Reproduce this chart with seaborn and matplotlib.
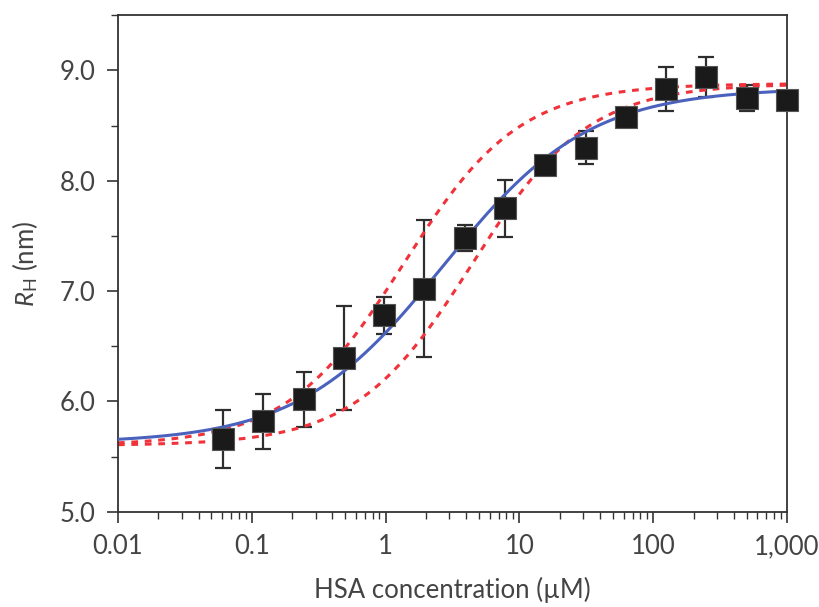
import numpy as np
import matplotlib
matplotlib.use("Agg")
import matplotlib.pyplot as plt
import matplotlib.ticker as mticker
import seaborn as sns

# measured hydrodynamic radius vs HSA concentration
conc = [0.061, 0.122, 0.244, 0.488, 0.977, 1.95, 3.91, 7.81, 15.6, 31.3, 62.5, 125, 250, 500, 1000]
rh = [5.66, 5.82, 6.02, 6.39, 6.78, 7.02, 7.48, 7.75, 8.14, 8.30, 8.58, 8.83, 8.94, 8.75, 8.73]
rh_err = [0.26, 0.25, 0.25, 0.47, 0.17, 0.62, 0.12, 0.26, 0.0, 0.15, 0.0, 0.20, 0.18, 0.12, 0.0]

# Hill-type fit parameters (base, plateau, K, n)
fit_best = (5.62, 8.84, 2.7, 0.8)
fit_upper = (5.60, 8.88, 1.35, 1.0)
fit_lower = (5.60, 8.88, 4.4, 1.0)


def hill(x, p):
    a, b, k, n = p
    return a + (b - a) / (1 + (k / x) ** n)


sns.set_style("ticks")
plt.rcParams['font.family'] = ['Lato', 'DejaVu Sans']
plt.rcParams['mathtext.fontset'] = 'custom'
plt.rcParams['mathtext.rm'] = 'Lato'
plt.rcParams['mathtext.it'] = 'Lato:italic'

text_col = "#444444"
fig = plt.figure(figsize=(8.19, 6.07), dpi=100)
ax = fig.add_axes([0.144, 0.157, 0.817, 0.818])

xs = np.logspace(-2, 3, 400)
for p in (fit_upper, fit_lower):
    sns.lineplot(x=xs, y=hill(xs, p), ax=ax, color="#f0323a", lw=2.2,
                 linestyle=(0, (2.2, 2.2)), zorder=2)
sns.lineplot(x=xs, y=hill(xs, fit_best), ax=ax, color="#4a62bd", lw=2.2, zorder=3)

conc_a = np.array(conc)
rh_a = np.array(rh)
err_a = np.array(rh_err)
m = err_a > 0
ax.errorbar(conc_a[m], rh_a[m], yerr=err_a[m], fmt="none", ecolor="#2e2e2e",
            elinewidth=1.6, capsize=6, capthick=1.6, zorder=1)
sns.scatterplot(x=conc, y=rh, ax=ax, marker="s", s=260, color="#1a1a1a",
                edgecolor="#555555", linewidth=0.8, zorder=4, clip_on=False)

ax.set_xscale("log")
ax.set_xlim(0.01, 1000)
ax.set_ylim(5.0, 9.5)
ax.set_xticks([0.01, 0.1, 1, 10, 100, 1000])
ax.set_xticklabels(["0.01", "0.1", "1", "10", "100", "1,000"])
ax.xaxis.set_minor_locator(mticker.LogLocator(base=10, subs=np.arange(2, 10), numticks=20))
ax.xaxis.set_minor_formatter(mticker.NullFormatter())
ax.set_yticks([5, 6, 7, 8, 9])
ax.set_yticklabels(["5.0", "6.0", "7.0", "8.0", "9.0"])
ax.yaxis.set_minor_locator(mticker.MultipleLocator(0.5))

for s in ax.spines.values():
    s.set_visible(True)
    s.set_color("#333333")
    s.set_linewidth(1.3)
ax.tick_params(axis="both", which="major", direction="out", length=8, width=1.2,
               color="#333333", labelsize=18.5, labelcolor=text_col, pad=8)
ax.tick_params(axis="both", which="minor", direction="out", length=5, width=1.0,
               color="#333333")
ax.tick_params(top=False, right=False, which="both")

ax.set_xlabel("HSA concentration (µM)", fontsize=18.5, color=text_col, labelpad=13)
ax.set_ylabel(r"$R_\mathrm{H}$ (nm)", fontsize=18.5, color=text_col, labelpad=14)

fig.savefig("out.png", dpi=100)
